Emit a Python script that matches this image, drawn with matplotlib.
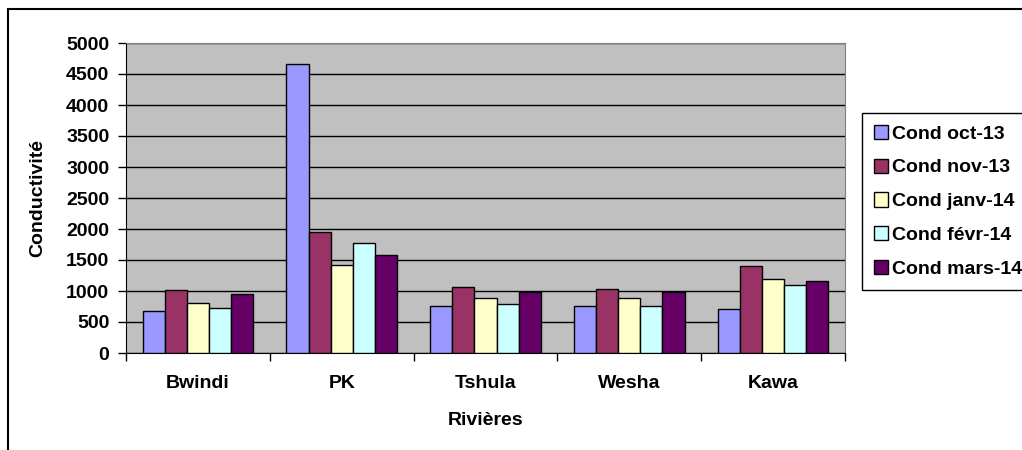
import matplotlib.pyplot as plt
import numpy as np
from matplotlib.patches import Rectangle

# data
rivers = ['Bwindi', 'PK', 'Tshula', 'Wesha', 'Kawa']
series = ['Cond oct-13', 'Cond nov-13', 'Cond janv-14', 'Cond févr-14', 'Cond mars-14']
cond_oct13 = [677, 4667, 758, 758, 704]
cond_nov13 = [1011, 1957, 1065, 1038, 1398]
cond_janv14 = [806, 1414, 887, 887, 1194]
cond_fevr14 = [731, 1774, 785, 758, 1091]
cond_mars14 = [957, 1575, 984, 984, 1167]
colors = ['#9999FF', '#993366', '#FFFFCC', '#CCFFFF', '#660066']

plt.rcParams['font.family'] = ['Liberation Sans', 'DejaVu Sans']
plt.rcParams['font.weight'] = 'bold'
fs = 14

fig = plt.figure(figsize=(10.22, 4.5), dpi=100)
ax = fig.add_axes([126 / 1022, 1 - 353 / 450, 719 / 1022, 310 / 450])
ax.set_facecolor('#C0C0C0')

# outer chart border (cropped on right and bottom)
fig.patches.append(Rectangle((8 / 1022, -0.1), 1.2, 1.1 - 9 / 450, transform=fig.transFigure,
                             fill=False, edgecolor='black', linewidth=1.5))

x = np.arange(len(rivers))
w = 1 / 6.5
all_vals = [cond_oct13, cond_nov13, cond_janv14, cond_fevr14, cond_mars14]
for i, vals in enumerate(all_vals):
    ax.bar(x + (i - 2) * w, vals, width=w, color=colors[i], edgecolor='black',
           linewidth=1, label=series[i], zorder=3)

ax.set_xlim(-0.5, 4.5)
ax.set_ylim(0, 5000)
ax.set_yticks(np.arange(0, 5001, 500))
ax.grid(axis='y', color='black', linewidth=1, zorder=1)
ax.set_axisbelow(True)

# category ticks at boundaries, labels at centres
ax.set_xticks(np.arange(-0.5, 5, 1))
ax.set_xticklabels([])
ax.set_xticks(x, minor=True)
ax.set_xticklabels(rivers, minor=True, fontsize=fs, fontweight='bold')
ax.tick_params(axis='x', which='major', length=6, width=1)
ax.tick_params(axis='x', which='minor', length=0, pad=16)
ax.tick_params(axis='y', length=6, width=1, pad=6, labelsize=fs)

for s in ['top', 'right']:
    ax.spines[s].set_color('#808080')
for s in ['left', 'bottom']:
    ax.spines[s].set_color('black')

ax.set_xlabel('Rivières', fontsize=fs, fontweight='bold', labelpad=14)
ax.set_ylabel('Conductivité', fontsize=fs, fontweight='bold', labelpad=14)

leg = ax.legend(loc='upper left', bbox_to_anchor=(862 / 1022, 1 - 113 / 450),
                bbox_transform=fig.transFigure, fontsize=fs, frameon=True,
                fancybox=False, edgecolor='black', framealpha=1,
                handlelength=0.75, handleheight=0.75, handletextpad=0.2,
                labelspacing=0.82, borderpad=0.6, borderaxespad=0)
leg.get_frame().set_linewidth(1)
for t in leg.get_texts():
    t.set_fontweight('bold')

fig.savefig('out.png', dpi=100)
